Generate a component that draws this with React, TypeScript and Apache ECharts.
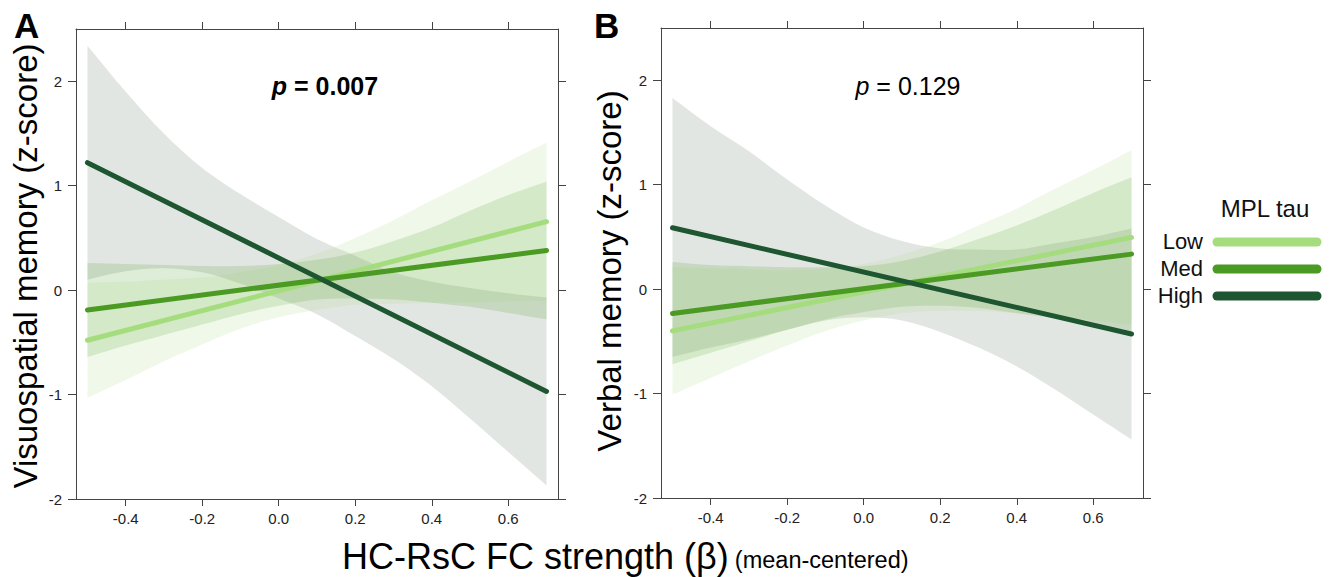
import React, { useEffect, useRef } from "react";
import * as echarts from "echarts";

// ---------- data ----------
const xGrid = [-0.5, -0.4, -0.3, -0.2, -0.1, 0.0, 0.1, 0.2, 0.3, 0.4, 0.5, 0.6, 0.7];
const lineXs = [-0.5, 0.7];
const xTicks = [-0.4, -0.2, 0.0, 0.2, 0.4, 0.6];
const yTicks = [-2, -1, 0, 1, 2];
const groups = ["Low", "Med", "High"];

// Panel A (visuospatial) fitted lines at x = -0.5 and x = 0.7
const aLow = [-0.48, 0.655];
const aMed = [-0.19, 0.38];
const aHigh = [1.22, -0.97];
// Panel A confidence bands
const aHighUpper = [2.34, 1.9, 1.5, 1.17, 0.92, 0.7, 0.49, 0.33, 0.17, 0.08, 0.02, -0.03, -0.07];
const aHighLower = [0.1, 0.18, 0.21, 0.17, 0.06, -0.08, -0.23, -0.44, -0.66, -0.92, -1.23, -1.55, -1.87];
const aLowUpper = [0.07, 0.08, 0.1, 0.12, 0.17, 0.24, 0.35, 0.5, 0.67, 0.86, 1.04, 1.23, 1.41];
const aLowLower = [-1.03, -0.86, -0.68, -0.52, -0.37, -0.26, -0.19, -0.14, -0.13, -0.12, -0.12, -0.11, -0.1];
const aMedUpper = [0.26, 0.25, 0.24, 0.23, 0.23, 0.25, 0.29, 0.36, 0.47, 0.6, 0.76, 0.91, 1.04];
const aMedLower = [-0.64, -0.53, -0.43, -0.33, -0.23, -0.15, -0.09, -0.08, -0.09, -0.12, -0.16, -0.22, -0.28];

// Panel B (verbal) fitted lines
const bLow = [-0.4, 0.495];
const bMed = [-0.233, 0.335];
const bHigh = [0.587, -0.43];
// Panel B confidence bands
const bHighUpper = [1.83, 1.56, 1.32, 1.05, 0.8, 0.59, 0.46, 0.39, 0.38, 0.38, 0.44, 0.5, 0.58];
const bHighLower = [-0.65, -0.56, -0.48, -0.39, -0.3, -0.27, -0.3, -0.41, -0.56, -0.74, -0.96, -1.2, -1.44];
const bLowUpper = [0.21, 0.2, 0.19, 0.18, 0.2, 0.24, 0.33, 0.45, 0.61, 0.77, 0.96, 1.14, 1.33];
const bLowLower = [-1.01, -0.85, -0.69, -0.54, -0.4, -0.3, -0.23, -0.21, -0.21, -0.23, -0.26, -0.3, -0.34];
const bMedUpper = [0.26, 0.23, 0.22, 0.21, 0.21, 0.22, 0.27, 0.36, 0.48, 0.61, 0.76, 0.92, 1.07];
const bMedLower = [-0.72, -0.61, -0.5, -0.39, -0.29, -0.22, -0.17, -0.16, -0.18, -0.23, -0.28, -0.34, -0.4];

// ---------- styles ----------
const FONT = "'Liberation Sans', Arial, Helvetica, sans-serif";
const lineColors: Record<string, string> = { Low: "#a5dc7e", Med: "#4a9a23", High: "#1e5631" };
const bandFill: Record<string, string> = {
  Low: "rgba(166,215,125,0.17)",
  Med: "rgba(74,155,34,0.18)",
  High: "rgba(95,118,100,0.18)",
};
const AXIS = "#444";

function bandSeries(xi: number, yi: number, lower: number[], upper: number[], grp: string, z: number) {
  return {
    type: "custom",
    name: grp + " band",
    coordinateSystem: "cartesian2d",
    xAxisIndex: xi,
    yAxisIndex: yi,
    data: xGrid.map((x, i) => [x, lower[i], upper[i]]),
    encode: { x: 0, y: [1, 2] },
    silent: true,
    clip: true,
    z,
    renderItem: (params: any, api: any) => {
      if (params.dataIndex !== 0) return null;
      const up = xGrid.map((x, i) => api.coord([x, upper[i]]));
      const lo = xGrid.map((x, i) => api.coord([x, lower[i]])).reverse();
      const n = up.length;
      // duplicated corner points keep the band's ends straight while the edges are smoothed
      const pts = [up[0], ...up, up[n - 1], lo[0], ...lo, lo[n - 1]];
      return {
        type: "polygon",
        shape: { points: pts, smooth: 0.35 },
        style: { fill: bandFill[grp], stroke: "none" },
      };
    },
  };
}

function lineSeries(xi: number, yi: number, ys: number[], grp: string, z: number) {
  return {
    type: "line",
    name: grp,
    xAxisIndex: xi,
    yAxisIndex: yi,
    data: lineXs.map((x, i) => [x, ys[i]]),
    symbol: "none",
    silent: true,
    lineStyle: { color: lineColors[grp], width: 5, cap: "round" },
    z,
  };
}

function xAxes(grid: number) {
  const base = {
    gridIndex: grid,
    type: "value",
    min: -0.53,
    max: 0.73,
    splitLine: { show: false },
    axisLine: { show: true, onZero: false, lineStyle: { color: AXIS, width: 1 } },
    axisTick: { show: true, length: 7, customValues: xTicks, lineStyle: { color: AXIS, width: 1 } },
  };
  return [
    {
      ...base,
      position: "bottom",
      axisLabel: {
        show: true,
        customValues: xTicks,
        formatter: (v: number) => v.toFixed(1),
        margin: 12,
        fontSize: 15,
        color: "#222",
        fontFamily: FONT,
      },
    },
    { ...base, position: "top", axisLabel: { show: false } },
  ];
}

function yAxes(grid: number) {
  const base = {
    gridIndex: grid,
    type: "value",
    min: -2,
    max: 2.5,
    splitLine: { show: false },
    axisLine: { show: true, onZero: false, lineStyle: { color: AXIS, width: 1 } },
    axisTick: { show: true, length: 8, customValues: yTicks, lineStyle: { color: AXIS, width: 1 } },
  };
  return [
    {
      ...base,
      position: "left",
      axisLabel: {
        show: true,
        customValues: yTicks,
        formatter: (v: number) => String(v),
        margin: 14,
        fontSize: 15,
        color: "#222",
        fontFamily: FONT,
      },
    },
    { ...base, position: "right", axisLabel: { show: false } },
  ];
}

export default function App() {
  const ref = useRef<HTMLDivElement>(null);
  useEffect(() => {
    if (!ref.current) return;
    const chart = echarts.init(ref.current, null, { renderer: "svg" });

    const series: any[] = [
      bandSeries(0, 0, aHighLower, aHighUpper, "High", 1),
      bandSeries(0, 0, aMedLower, aMedUpper, "Med", 2),
      bandSeries(0, 0, aLowLower, aLowUpper, "Low", 3),
      lineSeries(0, 0, aLow, "Low", 5),
      lineSeries(0, 0, aMed, "Med", 6),
      lineSeries(0, 0, aHigh, "High", 7),
      bandSeries(2, 2, bHighLower, bHighUpper, "High", 1),
      bandSeries(2, 2, bMedLower, bMedUpper, "Med", 2),
      bandSeries(2, 2, bLowLower, bLowUpper, "Low", 3),
      lineSeries(2, 2, bLow, "Low", 5),
      lineSeries(2, 2, bMed, "Med", 6),
      lineSeries(2, 2, bHigh, "High", 7),
    ];

    const legendY: Record<string, number> = { Low: 242, Med: 269, High: 296 };
    const legendEls: any[] = [
      {
        type: "text",
        x: 1265,
        y: 208,
        style: { text: "MPL tau", font: `24px ${FONT}`, fill: "#111", align: "center", verticalAlign: "middle" },
      },
    ];
    groups.forEach((g) => {
      legendEls.push({
        type: "text",
        x: 1203,
        y: legendY[g] - 1,
        style: { text: g, font: `22px ${FONT}`, fill: "#111", align: "right", verticalAlign: "middle" },
      });
      legendEls.push({
        type: "line",
        shape: { x1: 1217, y1: legendY[g], x2: 1317, y2: legendY[g] },
        style: { stroke: lineColors[g], lineWidth: 9, lineCap: "round" },
      });
    });

    chart.setOption({
      animation: false,
      backgroundColor: "#ffffff",
      grid: [
        { left: 76, top: 29, width: 482, height: 470 },
        { left: 661, top: 28, width: 482, height: 470 },
      ],
      xAxis: [...xAxes(0), ...xAxes(1)],
      yAxis: [...yAxes(0), ...yAxes(1)],
      series,
      graphic: [
        { type: "text", x: 14, y: 25, style: { text: "A", font: `bold 35px ${FONT}`, fill: "#000", verticalAlign: "middle" } },
        { type: "text", x: 594, y: 25, style: { text: "B", font: `bold 35px ${FONT}`, fill: "#000", verticalAlign: "middle" } },
        {
          type: "text",
          x: 325,
          y: 86,
          style: {
            text: "{i|p}{b| = 0.007}",
            align: "center",
            verticalAlign: "middle",
            rich: {
              i: { font: `italic bold 25px ${FONT}`, fill: "#000" },
              b: { font: `bold 25px ${FONT}`, fill: "#000" },
            },
          },
        },
        {
          type: "text",
          x: 908,
          y: 86,
          style: {
            text: "{i|p}{r| = 0.129}",
            align: "center",
            verticalAlign: "middle",
            rich: {
              i: { font: `italic 25px ${FONT}`, fill: "#000" },
              r: { font: `25px ${FONT}`, fill: "#000" },
            },
          },
        },
        {
          type: "text",
          x: 25,
          y: 266,
          rotation: Math.PI / 2,
          style: { text: "Visuospatial memory (z-score)", font: `33px ${FONT}`, fill: "#000", align: "center", verticalAlign: "middle" },
        },
        {
          type: "text",
          x: 609,
          y: 271,
          rotation: Math.PI / 2,
          style: { text: "Verbal memory (z-score)", font: `33px ${FONT}`, fill: "#000", align: "center", verticalAlign: "middle" },
        },
        {
          type: "text",
          x: 342,
          y: 556,
          style: {
            text: "{a|HC-RsC FC strength (β)}{s| }{b|(mean-centered)}",
            align: "left",
            verticalAlign: "middle",
            rich: {
              a: { font: `36px ${FONT}`, fill: "#000" },
              s: { font: `22px ${FONT}`, fill: "#000" },
              b: { font: `23.5px ${FONT}`, fill: "#000", padding: [8, 0, 0, 0] },
            },
          },
        },
        ...legendEls,
      ],
    });
    return () => chart.dispose();
  }, []);
  return (
    <div
      ref={ref}
      style={{ position: "absolute", left: 0, top: 0, width: 1330, height: 577, background: "#fff" }}
    />
  );
}
